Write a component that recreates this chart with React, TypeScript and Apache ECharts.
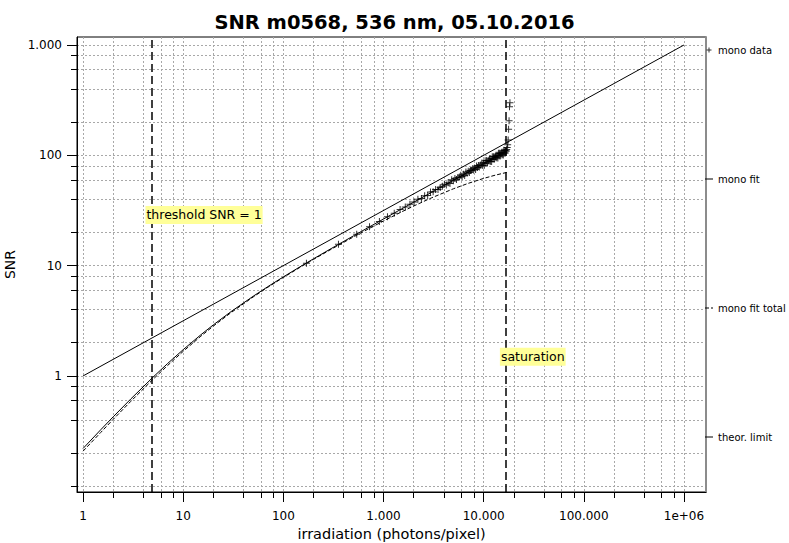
import React, { useEffect, useRef } from 'react';
import * as echarts from 'echarts';

const FONT = '"DejaVu Sans", Verdana, sans-serif';

const titleText = 'SNR m0568, 536 nm, 05.10.2016';
const xAxisTitle = 'irradiation (photons/pixel)';
const yAxisTitle = 'SNR';

const xRange = [0.87, 1660000];
const yRange = [0.0887, 1182];

const xMajorTicks = [1, 10, 100, 1000, 10000, 100000, 1000000];
const xGridLines = [
  1, 2, 4, 6, 8, 10, 20, 40, 60, 80, 100, 200, 400, 600, 800,
  1000, 2000, 4000, 6000, 8000, 10000, 20000, 40000, 60000, 80000,
  100000, 200000, 400000, 600000, 800000, 1000000,
];
const yMajorTicks = [1, 10, 100, 1000];
const yGridLines = [
  0.1, 0.2, 0.4, 0.6, 0.8, 1, 2, 4, 6, 8, 10, 20, 40, 60, 80,
  100, 200, 400, 600, 800, 1000,
];

// theoretical limit
const theorX = [1, 1000000];
const theorY = [1, 1000];

// mono fit and mono fit total
const fitX = [1, 1.5, 2, 3, 5, 7, 10, 15, 20, 30, 50, 70, 100, 150, 200, 300, 500, 700, 1000, 1500, 2000, 3000, 5000, 7000, 10000, 13000, 17000];
const fitY = [0.22, 0.325, 0.426, 0.619, 0.975, 1.298, 1.732, 2.361, 2.905, 3.826, 5.28, 6.449, 7.904, 9.88, 11.53, 14.27, 18.59, 22.08, 26.46, 32.49, 37.55, 46.05, 59.5, 70.43, 84.2, 96.02, 109.8];
const totalY = [0.208, 0.307, 0.404, 0.589, 0.933, 1.246, 1.672, 2.291, 2.831, 3.748, 5.201, 6.367, 7.814, 9.771, 11.39, 14.06, 18.19, 21.43, 25.39, 30.58, 34.69, 41.07, 49.78, 55.67, 61.78, 66.01, 70.0];

// mono data
const dataX = [
  170, 355, 540, 725, 910, 1095, 1280, 1465, 1650, 1835,
  2020, 2205, 2390, 2575, 2760, 2945, 3130, 3315, 3500, 3685,
  3870, 4055, 4240, 4425, 4610, 4795, 4980, 5165, 5350, 5535,
  5720, 5905, 6090, 6275, 6460, 6645, 6830, 7015, 7200, 7385,
  7570, 7755, 7940, 8125, 8310, 8495, 8680, 8865, 9050, 9235,
  9420, 9605, 9790, 9975, 10160, 10345, 10530, 10715, 10900, 11085,
  11270, 11455, 11640, 11825, 12010, 12195, 12380, 12565, 12750, 12935,
  13120, 13305, 13490, 13675, 13860, 14045, 14230, 14415, 14600, 14785,
  14970, 15155, 15340, 15525, 15710, 15895, 16080, 16265, 16450, 16635,
  16820, 17005, 17190, 17375, 17560, 17745, 17930, 18115, 18300,
];
const dataY = [
  10.5, 15.6, 19.3, 22.5, 25.1, 27.8, 29.9, 32.2, 34.0, 36.0,
  37.7, 40.0, 40.5, 43.0, 43.2, 46.6, 46.7, 49.1, 49.0, 51.1,
  52.3, 54.6, 53.7, 56.5, 55.4, 60.0, 58.8, 61.7, 60.3, 62.9,
  63.7, 66.0, 64.4, 67.3, 65.6, 70.7, 68.9, 71.9, 70.0, 72.7,
  73.3, 75.6, 73.5, 76.6, 74.4, 79.9, 77.7, 80.9, 78.5, 81.3,
  81.7, 85.0, 80.8, 85.4, 81.1, 89.5, 85.1, 89.8, 85.3, 89.3,
  89.4, 92.8, 88.1, 93.0, 88.1, 97.2, 92.3, 97.2, 92.2, 96.5,
  96.5, 100.1, 94.9, 100.0, 94.7, 104.3, 99.0, 104.2, 98.7, 103.2,
  103.1, 106.8, 101.2, 106.5, 100.8, 111.0, 105.2, 110.6, 104.8, 109.4,
  109.2, 113.1, 118, 125, 138, 172, 206, 276, 299,
];

const thresholdX = 4.87;
const saturationX = 16500;
const thresholdLabel = { text: 'threshold SNR = 1', x: 4.15, y: 28.8 };
const saturationLabel = { text: 'saturation', x: 14360, y: 1.49 };

const PLUS = 'path://M3,0h1v3h3v1h-3v3h-1v-3h-3v-1h3z';
// legend icons: thin line centred in an 8x7 box (tiny corner dots keep the box)
const ICON_LINE = 'path://M0,0h0.01v0.01h-0.01zM0,3h8v1h-8zM7.99,6.99h0.01v0.01h-0.01z';
const ICON_DASH = 'path://M0,0h0.01v0.01h-0.01zM0,3h4v1h-4zM6,3h2v1h-2zM7.99,6.99h0.01v0.01h-0.01z';
const ICON_PLUS = 'path://M0,0h0.01v0.01h-0.01zM3,1h1v2h2v1h-2v2h-1v-2h-2v-1h2zM6.99,6.99h0.01v0.01h-0.01z';

function fmtTick(v: number): string {
  if (v >= 999999) return '1e+06';
  if (v < 1) return '';
  return String(Math.round(v)).replace(/\B(?=(\d{3})+(?!\d))/g, '.');
}

export default function App() {
  const ref = useRef<HTMLDivElement>(null);
  useEffect(() => {
    document.body.style.margin = '0';
    const chart = echarts.init(ref.current!, null, { renderer: 'svg' });
    const gridLineStyle = { color: '#a8a8a8', type: [2, 2], width: 1 };
    chart.setOption({
      animation: false,
      backgroundColor: '#fff',
      textStyle: { fontFamily: FONT },
      title: {
        text: titleText,
        left: 'center',
        top: 7,
        textStyle: { fontFamily: FONT, fontSize: 19.5, fontWeight: 'bold', color: '#000' },
      },
      grid: {
        left: 77, right: 83, top: 37, bottom: 51,
        outerBoundsMode: 'none',
        containLabel: false,
        show: true, borderColor: '#000', borderWidth: 1, backgroundColor: 'transparent',
      },
      legend: {
        orient: 'vertical',
        left: 705,
        top: 45,
        padding: 0,
        itemGap: 119,
        itemWidth: 8,
        itemHeight: 7,
        textStyle: { fontFamily: FONT, fontSize: 10, color: '#000' },
        data: [
          { name: 'mono data', icon: ICON_PLUS },
          { name: 'mono fit', icon: ICON_LINE },
          { name: 'mono fit total', icon: ICON_DASH },
          { name: 'theor. limit', icon: ICON_LINE },
        ],
      },
      xAxis: [
        {
          type: 'log',
          logBase: 10,
          min: xRange[0],
          max: xRange[1],
          position: 'bottom',
          name: xAxisTitle,
          nameLocation: 'middle',
          nameGap: 33,
          nameTextStyle: { fontFamily: FONT, fontSize: 14.5, color: '#000' },
          axisLine: { show: true, onZero: false, lineStyle: { color: '#000', width: 1 } },
          axisTick: { show: true, length: 10, customValues: xMajorTicks, lineStyle: { color: '#000' } },
          axisLabel: { show: true, customValues: xMajorTicks, formatter: fmtTick, margin: 18, fontSize: 12, color: '#000', fontFamily: FONT },
          splitLine: { show: false },
        },
        {
          type: 'log',
          logBase: 10,
          min: xRange[0],
          max: xRange[1],
          position: 'bottom',
          axisLine: { show: false, onZero: false },
          axisTick: { show: true, length: 6, customValues: xGridLines, lineStyle: { color: '#000' } },
          axisLabel: { show: false },
          splitLine: { show: true, lineStyle: gridLineStyle },
        },
      ],
      yAxis: [
        {
          type: 'log',
          logBase: 10,
          min: yRange[0],
          max: yRange[1],
          position: 'left',
          name: yAxisTitle,
          nameLocation: 'middle',
          nameGap: 53,
          nameRotate: 90,
          nameTextStyle: { fontFamily: FONT, fontSize: 14, color: '#000' },
          axisLine: { show: true, onZero: false, lineStyle: { color: '#000', width: 1 } },
          axisTick: { show: true, length: 10, customValues: yMajorTicks, lineStyle: { color: '#000' } },
          axisLabel: { show: true, customValues: yMajorTicks, formatter: fmtTick, margin: 15, fontSize: 12, color: '#000', fontFamily: FONT },
          splitLine: { show: false },
        },
        {
          type: 'log',
          logBase: 10,
          min: yRange[0],
          max: yRange[1],
          position: 'left',
          axisLine: { show: false, onZero: false },
          axisTick: { show: true, length: 6, customValues: yGridLines, lineStyle: { color: '#000' } },
          axisLabel: { show: false },
          splitLine: { show: true, lineStyle: gridLineStyle },
        },
        {
          type: 'log',
          logBase: 10,
          min: yRange[0],
          max: yRange[1],
          position: 'right',
          axisLine: { show: true, onZero: false, lineStyle: { color: '#8c8c8c', width: 2 } },
          axisTick: { show: false },
          axisLabel: { show: false },
          splitLine: { show: false },
        },
      ],
      series: [
        {
          name: 'mono data',
          type: 'scatter',
          symbol: PLUS,
          symbolSize: 7,
          itemStyle: { color: '#000' },
          data: dataX.map((x, i) => [x, dataY[i]]),
          z: 4,
        },
        {
          name: 'mono fit',
          type: 'line',
          symbol: 'none',
          lineStyle: { color: '#000', width: 1 },
          itemStyle: { color: '#000' },
          data: fitX.map((x, i) => [x, fitY[i]]),
          z: 3,
        },
        {
          name: 'mono fit total',
          type: 'line',
          symbol: 'none',
          lineStyle: { color: '#000', width: 1, type: [4, 2] },
          itemStyle: { color: '#000' },
          data: fitX.map((x, i) => [x, totalY[i]]),
          z: 3,
        },
        {
          name: 'theor. limit',
          type: 'line',
          symbol: 'none',
          lineStyle: { color: '#000', width: 1 },
          itemStyle: { color: '#000' },
          data: theorX.map((x, i) => [x, theorY[i]]),
          z: 3,
          markLine: {
            silent: true,
            symbol: 'none',
            label: { show: false },
            lineStyle: { color: '#000', width: 1.5, type: [8, 4] },
            data: [{ xAxis: thresholdX }, { xAxis: saturationX }],
          },
          markPoint: {
            symbol: 'rect',
            symbolSize: 1,
            itemStyle: { color: 'rgba(0,0,0,0)' },
            label: {
              show: true,
              position: 'right',
              distance: 0,
              color: '#000',
              fontSize: 12.5,
              fontFamily: FONT,
              backgroundColor: '#ffff99',
              padding: [3, 1, 2, 1],
            },
            data: [
              { coord: [thresholdLabel.x, thresholdLabel.y], label: { formatter: thresholdLabel.text } },
              { coord: [saturationLabel.x, saturationLabel.y], label: { formatter: saturationLabel.text } },
            ],
          },
        },
      ],
    });
    return () => chart.dispose();
  }, []);
  return <div ref={ref} style={{ width: 789, height: 543 }} />;
}
